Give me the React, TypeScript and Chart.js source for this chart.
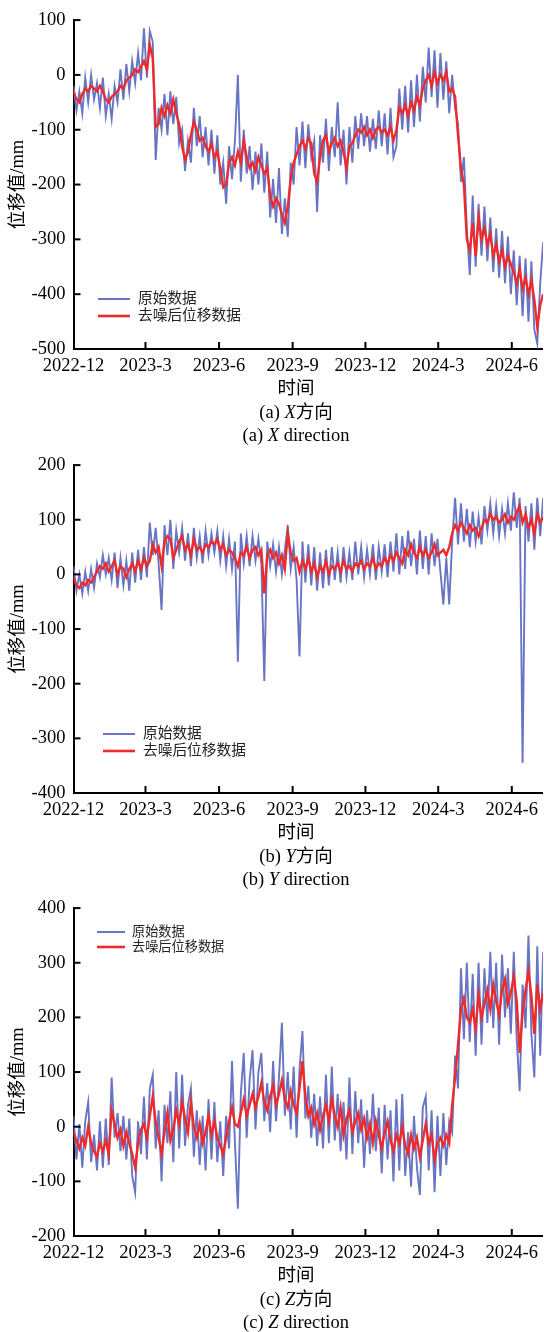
import React, { useEffect, useRef } from "react";
import { Chart, registerables } from "chart.js";

Chart.register(...registerables);

const FONT = '"Liberation Serif", "Times New Roman", "Noto Sans CJK SC", serif';
const BLUE = "#6875c4";
const RED = "#ee2a2a";

// samples start on 2022-12-01, one every DAY_STEP days
const DAY_STEP = 3.67;
const tickDays = [0, 90, 182, 274, 365, 456, 548];
const tickLabels = ["2022-12", "2023-3", "2023-6", "2023-9", "2023-12", "2024-3", "2024-6"];
const seriesNames = ["原始数据", "去噪后位移数据"];

// (a) X direction
const xRaw = [
  -20, -65, -30, -70, -5, -50, 0, -45, -15, -60,
  -5, -75, -35, -80, -20, -50, 10, -45, 20, -30,
  25, -15, 40, -10, 85, -5, 80, 60, -155, -60,
  -100, -35, -110, -30, -90, -40, -125, -100, -175, -120,
  -160, -60, -130, -75, -150, -95, -165, -100, -180, -110,
  -200, -160, -235, -130, -190, -120, 0, -195, -100, -180,
  -130, -210, -140, -200, -125, -215, -140, -260, -190, -270,
  -170, -290, -225, -295, -160, -200, -95, -165, -85, -170,
  -90, -150, -120, -250, -110, -160, -80, -175, -95, -150,
  -50, -165, -100, -200, -95, -160, -75, -135, -70, -130,
  -75, -140, -80, -135, -65, -130, -70, -145, -60, -150,
  -130, -25, -100, -20, -105, -10, -95, 0, -85, 15,
  -50, 50, -40, 45, -60, 40, -45, 25, -70, 0,
  -60, -90, -195, -150, -280, -365, -220, -350, -235, -330,
  -240, -340, -260, -360, -280, -370, -285, -380, -295, -400,
  -320, -420, -330, -440, -335, -450, -340, -465, -490, -380,
  -305,
];
const xDenoised = [
  -30, -45, -50, -35, -25, -30, -20, -25, -30, -20,
  -30, -45, -50, -40, -35, -30, -20, -25, -10, -5,
  0, 10, 5, 15, 25, 10, 55, 30, -95, -90,
  -60, -75, -55, -70, -45, -70, -90, -130, -155, -140,
  -110, -85, -100, -120, -115, -130, -140, -125, -150, -140,
  -170, -205, -200, -160, -150, -165, -140, -160, -120, -150,
  -170, -160, -175, -150, -165, -180, -170, -220, -240, -225,
  -235, -255, -270, -240, -190, -160, -145, -130, -120, -135,
  -115, -125, -180, -195, -150, -120, -110, -140, -125, -115,
  -130, -120, -140, -170, -130, -125, -110, -100, -105, -95,
  -110, -100, -115, -100, -95, -105, -100, -110, -95, -120,
  -100, -60, -70, -55, -75, -50, -65, -40, -55, -25,
  -10, 0, -20, 5, -15, 0, -10, 5, -30, -25,
  -40, -110, -170, -200, -300, -320, -270, -330, -260, -300,
  -280, -310, -290, -330, -310, -340, -320, -350, -330, -345,
  -360, -380, -355, -390, -370, -400, -375, -410, -460, -420,
  -400,
];

// (b) Y direction
const yRaw = [
  15, -30, 0, -35, 5, -30, 10, -25, 20, -5,
  35, 0, 30, -10, 40, -25, 30, -20, 25, -30,
  40, -15, 45, -10, 50, -5, 95, 35, 85, 20,
  -65, 90, 35, 100, 10, 80, 40, 85, 25, 75,
  15, 85, 30, 70, 20, 80, 35, 75, 40, 80,
  25, 70, 15, 65, 10, 60, -160, 75, 20, 70,
  15, 70, 25, 65, 20, -195, 60, 15, 55, 5,
  50, 0, 45, 90, 10, 50, -10, -150, 60, -15,
  55, -20, 50, -30, 40, -25, 45, -20, 50, -10,
  40, -15, 50, -5, 40, -10, 60, 0, 50, -5,
  45, 0, 55, -10, 50, 5, 55, -5, 60, 5,
  75, 0, 70, 10, 80, 15, 65, 0, 80, 10,
  70, 0, 75, 15, 65, 5, -55, 30, -55, 60,
  140, 55, 130, 60, 120, 50, 115, 60, 105, 55,
  125, 80, 130, 75, 125, 70, 120, 75, 130, 80,
  150, 85, 140, -345, 125, 60, 130, 45, 140, 70,
  140,
];
const yDenoised = [
  -5, -20, -25, -15, -20, -10, -15, -5, 5, 15,
  10, 20, 5, 15, 25, 0, 15, 10, -5, 10,
  20, 5, 25, 10, 30, 15, 25, 55, 40, 50,
  15, 60, 70, 65, 30, 45, 60, 70, 45, 55,
  35, 65, 45, 50, 40, 55, 50, 60, 55, 65,
  45, 55, 35, 45, 40, 30, 15, 40, 35, 50,
  30, 45, 50, 35, 45, -35, 35, 45, 30, 40,
  20, 35, 10, 75, 40, 25, 30, 5, 25, 10,
  30, 5, 20, -5, 15, 5, 25, 0, 15, 10,
  20, 5, 25, 10, 15, 5, 20, 15, 25, 10,
  20, 15, 30, 10, 20, 15, 30, 20, 35, 25,
  40, 30, 20, 45, 35, 55, 40, 30, 50, 35,
  45, 30, 40, 55, 35, 40, 45, 35, 50, 75,
  90, 80, 95, 85, 75, 90, 80, 85, 70, 85,
  100, 95, 110, 100, 105, 95, 100, 110, 95, 105,
  100, 115, 125, 95, 110, 85, 100, 75, 110, 95,
  105,
];

// (c) Z direction
const zRaw = [
  20, -60, 5, -75, 10, 45, -65, -15, -80, 10,
  -75, 15, -70, 90, -20, 25, -45, 20, -60, 15,
  -90, -120, 10, -50, 55, -60, 70, 95, -40, 30,
  -100, 40, -30, 65, -65, 100, -40, 95, -35, 40,
  70, -55, 30, -70, 20, -80, 50, -60, 45, -65,
  10, -90, 20, -40, 120, -30, -150, 60, 135, -20,
  85, 140, -5, 100, 135, 10, 80, -10, 120, 10,
  90, 190, 20, 100, -5, 110, -20, 105, 175, 15,
  75, -20, 60, -35, 55, -40, 95, -30, 110, -25,
  60, -45, 45, -60, 90, -50, 65, -30, 50, -75,
  30, -50, 60, -45, 35, -85, 40, -60, 30, -100,
  50, -80, 60, -90, -10, -110, 20, -75, -125, 35,
  55, -80, 30, -120, 20, -90, 25, -70, 10, -10,
  130, 70, 290, 160, 300, 155, 280, 130, 300, 150,
  290, 190, 320, 180, 300, 150, 315, 200, 290, 170,
  320, 160, 65, 260, 180, 350, 170, 90, 330, 130,
  320,
];
const zDenoised = [
  -10, -25, -40, -20, -35, 0, -30, -45, -55, -30,
  -45, -25, -50, 30, 5, -20, -5, -35, -10, -30,
  -50, -75, -30, -5, 5, -20, 20, 55, 10, -20,
  -50, -10, 25, -25, -5, 30, 5, 45, 15, -10,
  45, 0, -20, 5, -30, -10, 20, -15, 10, -20,
  -35, -50, -20, 10, 35, 5, 0, 25, 50, 20,
  40, 60, 35, 55, 80, 45, 30, 55, 75, 40,
  60, 85, 50, 35, 65, 40, 25, 70, 120, 55,
  20, 35, 5, 25, -5, 20, 40, 10, 50, 20,
  0, 35, -15, 15, 30, -10, 10, 25, -5, 15,
  -20, 5, -30, 10, -15, -40, -10, 10, -25, -45,
  -15, -30, 0, -35, -50, -15, -40, -20, -55, -25,
  5, -30, -15, -60, -30, -20, -35, -15, -30, 40,
  90, 150, 215, 235, 200, 190, 215, 180, 240, 200,
  225, 250, 215, 260, 230, 205, 250, 270, 225, 245,
  275, 230, 135, 210, 250, 285, 240, 170, 260, 215,
  245,
];

type Legend = { x: number; y: number; gap: number; len: number; textGap: number; size: number };
type PanelCfg = {
  raw: number[];
  den: number[];
  min: number;
  max: number;
  top: number;
  height: number;
  legend: Legend;
  letter: string;
  axis: string;
};

const panels: PanelCfg[] = [
  { raw: xRaw, den: xDenoised, min: -500, max: 100, top: 1, height: 378, letter: "a", axis: "X",
    legend: { x: 98, y: 299 - 1, gap: 17, len: 32, textGap: 8, size: 14.7 } },
  { raw: yRaw, den: yDenoised, min: -400, max: 200, top: 446, height: 377, letter: "b", axis: "Y",
    legend: { x: 103, y: 734 - 446, gap: 17, len: 32, textGap: 8, size: 14.7 } },
  { raw: zRaw, den: zDenoised, min: -200, max: 400, top: 889, height: 377, letter: "c", axis: "Z",
    legend: { x: 97, y: 932 - 889, gap: 15, len: 28, textGap: 7, size: 13.2 } },
];

const decorPlugin = {
  id: "decor",
  afterDraw(chart: any, _args: any, opts: any) {
    const { ctx, chartArea: a, scales } = chart;
    ctx.save();
    ctx.strokeStyle = "#000";
    ctx.lineWidth = 2;
    const L = 7;
    scales.x.ticks.forEach((t: any) => {
      const px = scales.x.getPixelForValue(t.value);
      if (px <= a.left + 1) return;
      ctx.beginPath();
      ctx.moveTo(px, a.bottom);
      ctx.lineTo(px, a.bottom - L);
      ctx.stroke();
    });
    scales.y.ticks.forEach((t: any) => {
      const py = scales.y.getPixelForValue(t.value);
      if (py >= a.bottom - 1) return;
      ctx.beginPath();
      ctx.moveTo(a.left, py);
      ctx.lineTo(a.left + L, py);
      ctx.stroke();
    });
    const lg: Legend = opts.legend;
    chart.data.datasets.forEach((ds: any, k: number) => {
      const y = lg.y + k * lg.gap;
      ctx.strokeStyle = ds.borderColor;
      ctx.lineWidth = k === 0 ? 2 : 2.6;
      ctx.beginPath();
      ctx.moveTo(lg.x, y);
      ctx.lineTo(lg.x + lg.len, y);
      ctx.stroke();
      ctx.fillStyle = "#222";
      ctx.font = `${lg.size}px ${FONT}`;
      ctx.textBaseline = "middle";
      ctx.textAlign = "left";
      ctx.fillText(ds.label, lg.x + lg.len + lg.textGap, y + 0.5);
    });
    ctx.restore();
  },
};

function Panel({ cfg }: { cfg: PanelCfg }) {
  const ref = useRef<HTMLCanvasElement>(null);
  useEffect(() => {
    const chart = new Chart(ref.current as HTMLCanvasElement, {
      type: "line",
      data: {
        datasets: [
          {
            label: seriesNames[0],
            data: cfg.raw.map((v, i) => ({ x: i * DAY_STEP, y: v })),
            borderColor: BLUE,
            borderWidth: 1.9,
            pointRadius: 0,
            tension: 0,
            order: 2,
          },
          {
            label: seriesNames[1],
            data: cfg.den.map((v, i) => ({ x: i * DAY_STEP, y: v })),
            borderColor: RED,
            borderWidth: 2.4,
            pointRadius: 0,
            tension: 0,
            order: 1,
          },
        ],
      },
      options: {
        responsive: false,
        animation: false,
        devicePixelRatio: 1,
        layout: { padding: { top: 14, right: 0, bottom: 0, left: 0 } },
        plugins: {
          legend: { display: false },
          tooltip: { enabled: false },
          decor: { legend: cfg.legend },
        } as any,
        scales: {
          x: {
            type: "linear",
            min: 0,
            max: 587,
            grid: { display: false, drawTicks: false },
            border: { display: true, color: "#000", width: 2 },
            afterBuildTicks: (s: any) => {
              s.ticks = tickDays.map((v) => ({ value: v }));
            },
            afterFit: (s: any) => {
              s.height = 30;
            },
            ticks: {
              autoSkip: false,
              maxRotation: 0,
              minRotation: 0,
              padding: 6,
              color: "#000",
              font: { family: FONT, size: 18.5 },
              callback: (_v: any, i: number) => tickLabels[i],
            },
          },
          y: {
            min: cfg.min,
            max: cfg.max,
            grid: { display: false, drawTicks: false },
            border: { display: true, color: "#000", width: 2 },
            afterFit: (s: any) => {
              s.width = 73.5;
            },
            ticks: {
              stepSize: 100,
              padding: 8,
              color: "#000",
              font: { family: FONT, size: 18.5 },
              callback: (v: any) => String(v),
            },
            title: {
              display: true,
              text: "位移值/mm",
              color: "#000",
              font: { family: FONT, size: 18.5 },
              padding: { top: 7, bottom: 0 },
            },
          },
        },
      } as any,
      plugins: [decorPlugin],
    });
    return () => chart.destroy();
  }, [cfg]);
  return (
    <canvas
      ref={ref}
      width={544}
      height={cfg.height}
      style={{ position: "absolute", left: 0, top: cfg.top, width: 544, height: cfg.height }}
    />
  );
}

const textStyle = (centerY: number): React.CSSProperties => ({
  position: "absolute",
  left: 0,
  width: 592,
  top: centerY - 11,
  height: 22,
  lineHeight: "22px",
  textAlign: "center",
  fontFamily: FONT,
  fontSize: 18.5,
  color: "#000",
  whiteSpace: "nowrap",
});

export default function App() {
  const axisBottoms = [349, 793, 1236];
  return (
    <div style={{ position: "absolute", left: 0, top: 0, width: 544, height: 1332, overflow: "hidden", background: "#fff" }}>
      {panels.map((p, k) => (
        <React.Fragment key={p.letter}>
          <Panel cfg={p} />
          <div style={textStyle(axisBottoms[k] + 39)}>时间</div>
          <div style={textStyle(axisBottoms[k] + 63)}>
            ({p.letter}) <i>{p.axis}</i>方向
          </div>
          <div style={textStyle(axisBottoms[k] + 86)}>
            ({p.letter}) <i>{p.axis}</i> direction
          </div>
        </React.Fragment>
      ))}
    </div>
  );
}
